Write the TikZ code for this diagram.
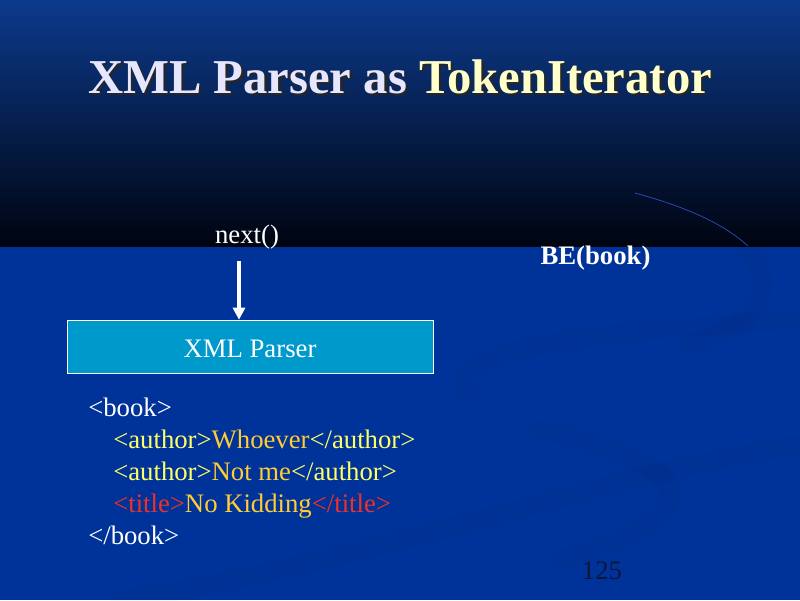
\documentclass[tikz,border=0pt]{standalone}
\usepackage{fontspec}
\setmainfont{Liberation Serif}
\usetikzlibrary{positioning, arrows.meta, calc}
\definecolor{slide-blue}{RGB}{0,51,153}
\definecolor{slide-top}{RGB}{12,58,140}
\definecolor{slide-dark}{RGB}{0,4,16}
\definecolor{title-lavender}{RGB}{230,230,255}
\definecolor{title-yellow}{RGB}{255,255,204}
\definecolor{parser-cyan}{RGB}{0,153,204}
\definecolor{tag-yellow}{RGB}{255,255,102}
\definecolor{text-gold}{RGB}{255,204,51}
\definecolor{tag-red}{RGB}{240,48,40}
\definecolor{page-navy}{RGB}{10,22,60}

\tikzset{
	title text/.style={font=\fontsize{34.6}{40}\bfseries\selectfont, anchor=base, inner sep=0},
	slide text/.style={font=\fontsize{19}{23}\selectfont, inner sep=0},
	xml line/.style={slide text, anchor=base west},
	parser box/.style={slide text, draw=white, line width=0.4pt, fill=parser-cyan, text=white,
		minimum width=9.15cm, minimum height=1.325cm, text height=0.56cm, text depth=0pt},
	next arrow/.style={draw=white, line width=0.8mm, -{Triangle[width=3mm, length=3mm]}},
	swoosh/.style={line width=5mm, draw=black, opacity=0.03, line cap=round}
}

\begin{document}
\begin{tikzpicture}[x=0.025cm, y=-0.025cm]
					\useasboundingbox (0,0) rectangle (800,600);
					\fill[slide-blue] (0,0) rectangle (800,600);
					\shade[top color=slide-top, bottom color=slide-dark] (0,0) rectangle (800,246);
					
					\draw[swoosh] (120,600) .. controls (380,560) and (620,470) .. (800,445);
					\draw[swoosh] (470,395) .. controls (430,350) and (600,330) .. (800,320);
					\draw[swoosh] (540,430) .. controls (720,470) and (700,520) .. (560,560);
					\draw[swoosh] (748,250) .. controls (775,280) and (770,320) .. (690,345);
					\draw[draw={rgb,255:red,40;green,80;blue,190}, line width=0.5pt] (635,193) .. controls (690,208) and (725,225) .. (748,246);
					
					\node[title text] at (400,93) (title) {\rlap{\hspace{1.8pt}\raisebox{-1.8pt}{\color{black!85}XML Parser as TokenIterator}}\textcolor{title-lavender}{XML Parser as} \textcolor{title-yellow}{TokenIterator}};
					
					\node[slide text, anchor=base, text=white] at (247,243.5) (next) {next()};
					\node[slide text, anchor=base, text=white, font=\fontsize{19}{23}\bfseries\selectfont] at (595.5,264) (be book) {BE(book)};
					
					\node[parser box] at (250,346.5) (parser) {XML Parser};
					\coordinate (arrow start) at (239,261);
					\draw[next arrow] (arrow start) -- (arrow start |- parser.north);
					
					\node[xml line, text=white] at (88,416.7) (book open) {<book>};
					\node[xml line] at (113,448.7) (author one) {\textcolor{tag-yellow}{<author>}\textcolor{text-gold}{Whoever}\textcolor{tag-yellow}{</author>}};
					\node[xml line] at (113,480.7) (author two) {\textcolor{tag-yellow}{<author>}\textcolor{text-gold}{Not me}\textcolor{tag-yellow}{</author>}};
					\node[xml line] at (113,512.7) (title tag) {\textcolor{tag-red}{<title>}\textcolor{text-gold}{No Kidding}\textcolor{tag-red}{</title>}};
					\node[xml line, text=white] at (88,544.7) (book close) {</book>};
					
					\node[slide text, anchor=base, text=page-navy] at (602,579) (page) {125};
				\end{tikzpicture}
\end{document}
